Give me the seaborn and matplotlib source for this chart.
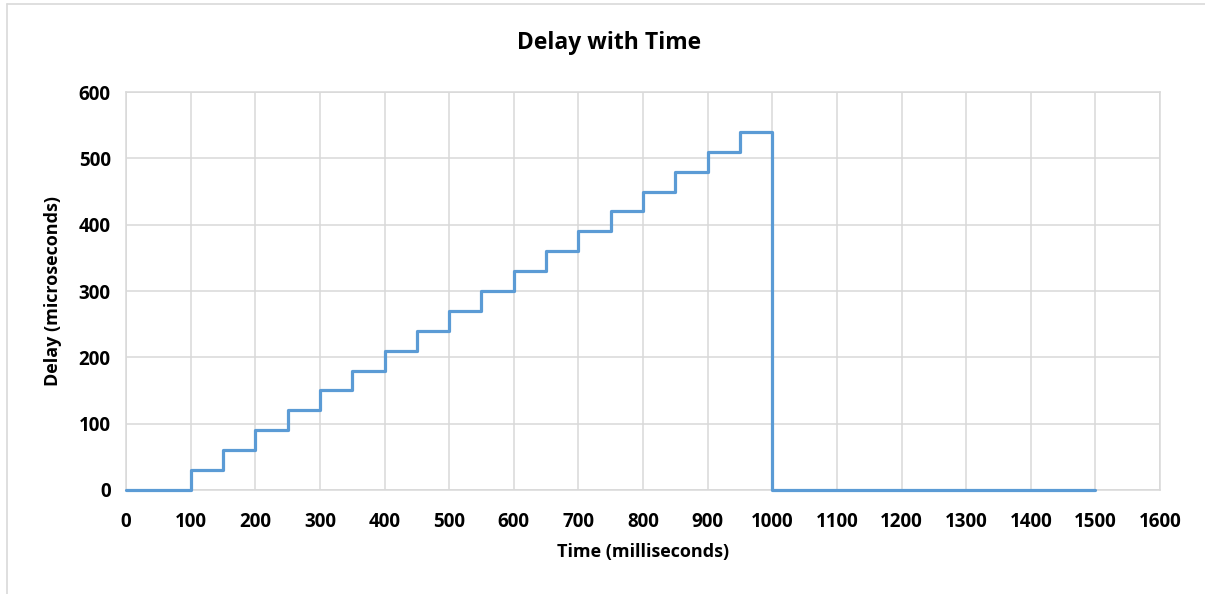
import pandas as pd
import matplotlib.pyplot as plt
import seaborn as sns
from matplotlib.lines import Line2D

# Step points (ms) and delay held from each point until the next (us)
time_ms = [0, 100, 150, 200, 250, 300, 350, 400, 450, 500, 550, 600, 650,
           700, 750, 800, 850, 900, 950, 1000, 1500]
delay_us = [0, 30, 60, 90, 120, 150, 180, 210, 240, 270, 300, 330, 360,
            390, 420, 450, 480, 510, 540, 0, 0]

x_ticks = [0, 100, 200, 300, 400, 500, 600, 700, 800, 900, 1000, 1100,
           1200, 1300, 1400, 1500, 1600]
y_ticks = [0, 100, 200, 300, 400, 500, 600]

df = pd.DataFrame({'time': time_ms, 'delay': delay_us})

sns.set_style("white")
plt.rcParams['font.family'] = ['Open Sans', 'DejaVu Sans']
plt.rcParams['font.weight'] = 'bold'
plt.rcParams['text.color'] = 'black'
plt.rcParams['xtick.color'] = 'black'
plt.rcParams['ytick.color'] = 'black'
plt.rcParams['axes.labelcolor'] = 'black'

fig = plt.figure(figsize=(12.05, 5.94), dpi=100)
ax = fig.add_axes([0.1046, 0.1751, 0.8581, 0.6700])

sns.lineplot(data=df, x='time', y='delay', drawstyle='steps-post',
             color='#5B9BD5', linewidth=2.3, ax=ax, zorder=3, clip_on=False)

ax.set_xlim(0, 1600)
ax.set_ylim(0, 600)
ax.set_xticks(x_ticks)
ax.set_yticks(y_ticks)
ax.grid(True, color='#D9D9D9', linewidth=1.1)
ax.set_axisbelow(True)
for side in ['top', 'right', 'bottom', 'left']:
    ax.spines[side].set_color('#D9D9D9')
    ax.spines[side].set_linewidth(1.1)
ax.tick_params(axis='y', length=0, labelsize=13.5, pad=11)
ax.tick_params(axis='x', length=0, labelsize=13.5, pad=16)
for lbl in ax.get_xticklabels() + ax.get_yticklabels():
    lbl.set_fontweight('bold')

fig.text(609 / 1205, 1 - 43 / 594, 'Delay with Time', fontsize=16.5,
         fontweight='bold', ha='center', va='center')
ax.set_xlabel('Time (milliseconds)', fontsize=13, fontweight='bold', labelpad=8)
ax.set_ylabel('Delay (microseconds)', fontsize=13, fontweight='bold', labelpad=12)

# Chart frame (top and left edges visible in the reference)
fig.add_artist(Line2D([7 / 1205, 1], [1 - 4 / 594, 1 - 4 / 594],
                      transform=fig.transFigure, color='#D9D9D9', linewidth=1.2))
fig.add_artist(Line2D([7 / 1205, 7 / 1205], [0, 1 - 4 / 594],
                      transform=fig.transFigure, color='#D9D9D9', linewidth=1.2))

fig.savefig('out.png', dpi=100)
